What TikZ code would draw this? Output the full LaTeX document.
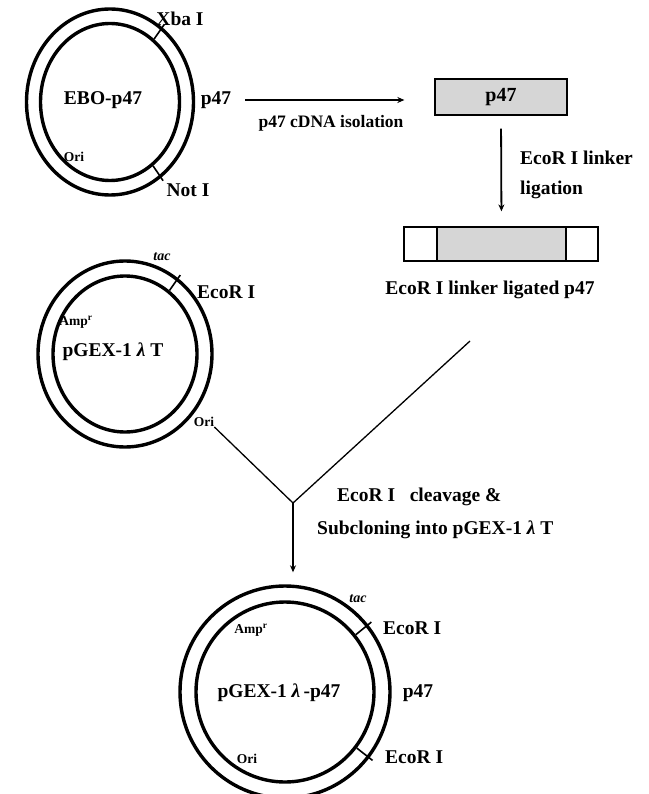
\documentclass[tikz,border=0pt]{standalone}
\usepackage{fontspec}
\setmainfont{Liberation Serif}
\usetikzlibrary{shapes.geometric,arrows.meta,calc}
\definecolor{insert}{HTML}{D6D6D6}
\begin{document}
\begin{tikzpicture}[x=1pt,y=-1pt,
  ring/.style={ellipse, draw, line width=3.4pt, inner sep=0pt},
  lab/.style={font=\fontsize{19.5}{22}\selectfont\bfseries, inner sep=0pt},
  big/.style={font=\fontsize{19.5}{22}\selectfont\bfseries, inner sep=0pt},
  small/.style={font=\fontsize{13.5}{15}\selectfont\bfseries, inner sep=0pt},
  smallit/.style={font=\fontsize{14}{15}\selectfont\bfseries\itshape, inner sep=0pt},
  cut/.style={line width=1.6pt},
  arr/.style={-{Stealth[length=7pt,width=6pt]}, line width=1.4pt},
  thin/.style={line width=1.3pt},
  seg/.style={draw, line width=1.2pt, minimum height=34pt, inner sep=0pt}]
\useasboundingbox (0,0) rectangle (648,794);

% ---------- EBO-p47 ----------
\node[ring, minimum width=167pt, minimum height=186pt] (e1out) at (110,102) {};
\node[ring, minimum width=139pt, minimum height=157pt] (e1in) at (110,102) {};
\node[big] (e1name) at (103,100) {EBO-p47};
\node[small] (e1ori) at (74,157) {Ori};
\draw[cut] (e1in.55) -- ($(e1in.55)!1.25!(e1out.55)$);
\draw[cut] (e1in.-56) -- ($(e1in.-56)!1.25!(e1out.-56)$);
\node[lab] (xba) at (180,19) {Xba I};
\node[lab] (noti) at (188,190) {Not I};
\node[lab] (p47a) at (216,100) {p47};

% ---------- isolated insert ----------
\node[draw, fill=insert, line width=1.3pt, minimum width=132pt, minimum height=36pt, inner sep=0pt,
      font=\fontsize{20}{22}\selectfont\bfseries] (box) at (501,97) {p47};
\draw[arr, shorten <=14pt, shorten >=30pt] (p47a.east) -- (p47a.east -| box.west);
\node[lab, font=\fontsize{17.5}{20}\selectfont\bfseries] (iso) at (331,123) {p47 cDNA isolation};

% ---------- linker-ligated insert ----------
\node[seg, minimum width=33pt] (lk1) at (420.5,244) {};
\node[seg, fill=insert, minimum width=129pt] (lk2) at (501.5,244) {};
\node[seg, minimum width=32pt] (lk3) at (582,244) {};
\draw[arr, line width=1.8pt, shorten <=13pt, shorten >=15pt] (box.south) -- (lk2.north);
\node[lab, anchor=west] (lnk1) at (520,158) {EcoR I linker};
\node[lab, anchor=west] (lnk2) at (520,190) {ligation};
\node[lab] (lnk3) at (490,290) {EcoR I linker ligated p47};

% ---------- pGEX-1 lambda T ----------
\node[ring, minimum width=174pt, minimum height=186pt] (g1out) at (125,354) {};
\node[ring, minimum width=144pt, minimum height=156pt] (g1in) at (125,354) {};
\draw[cut] (g1in.55) -- ($(g1in.55)!1.25!(g1out.55)$);
\node[smallit] (g1tac) at (162,257) {tac};
\node[lab, anchor=west] (g1eco) at (197,292) {EcoR I};
\node[small] (g1amp) at (76,322) {Amp\textsuperscript{r}};
\node[big] (g1name) at (113,352) {pGEX-1\ \textit{λ}\ T};
\node[small] (g1ori) at (204,422) {Ori};

% ---------- subcloning ----------
\coordinate (vx) at (293,503);
\coordinate (vtop) at (470,341);
\draw[thin] (g1ori.south east) -- (vx);
\draw[thin] (vtop) -- (vx);
\node[lab, anchor=west] (clv1) at (337,497) {EcoR I\enspace\ cleavage \&};
\node[lab, anchor=west] (clv2) at (317,530) {Subcloning into pGEX-1\ \textit{λ}\ T};

% ---------- pGEX-1 lambda-p47 ----------
\node[ring, minimum width=210pt, minimum height=212pt] (g2out) at (285,692) {};
\node[ring, minimum width=178pt, minimum height=180pt] (g2in) at (285,692) {};
\draw[arr, line width=1.3pt, shorten >=12pt] (vx) -- (vx |- g2out.north);
\draw[cut] (g2in.39) -- ($(g2in.39)!1.25!(g2out.39)$);
\draw[cut] (g2in.-38.5) -- ($(g2in.-38.5)!1.25!(g2out.-38.5)$);
\node[smallit] (g2tac) at (358,599) {tac};
\node[lab, anchor=west] (g2eco1) at (383,628) {EcoR I};
\node[small] (g2amp) at (251,630) {Amp\textsuperscript{r}};
\node[big] (g2name) at (279,693) {pGEX-1\ \textit{λ}\,-p47};
\node[lab] (p47c) at (418,693) {p47};
\node[lab, anchor=west] (g2eco2) at (385,757) {EcoR I};
\node[small] (g2ori) at (247,759) {Ori};
\end{tikzpicture}
\end{document}
